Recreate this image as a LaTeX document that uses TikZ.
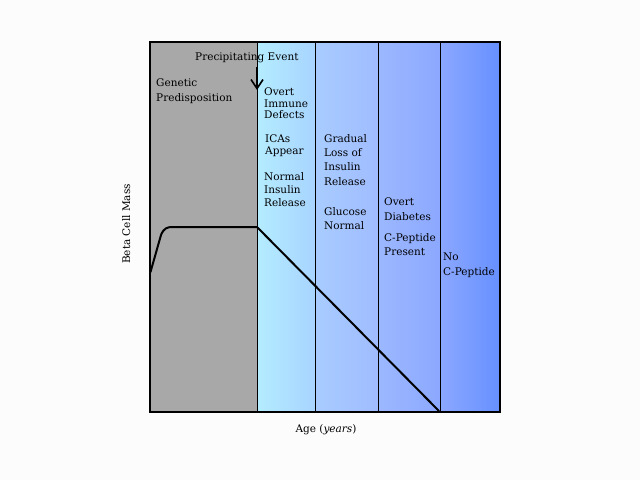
\documentclass[tikz,border=0pt]{standalone}
\usepackage{fontspec}
\setmainfont{DejaVu Serif}
\usetikzlibrary{arrows.meta}
\definecolor{bg}{HTML}{FCFCFC}
\definecolor{graybox}{HTML}{A8A8A8}
\definecolor{ca}{HTML}{B4ECFF}
\definecolor{cb}{HTML}{A8D4FF}
\definecolor{cc}{HTML}{A8CCFF}
\definecolor{cd}{HTML}{A0BCFF}
\definecolor{ce}{HTML}{9CB8FF}
\definecolor{cf}{HTML}{8CA8FF}
\definecolor{cg}{HTML}{8CA8FF}
\definecolor{ch}{HTML}{6690FF}
\tikzset{
  lbl/.style={anchor=north west, inner sep=0pt, align=left, font={\fontsize{10.5}{13}\selectfont}},
  lblw/.style={lbl, font={\fontsize{10.5}{14.3}\selectfont}},
  divider/.style={line width=1pt, draw=black},
  curve/.style={line width=2pt, line join=round, line cap=round},
}
\begin{document}
\begin{tikzpicture}[x=1pt,y=-1pt]
\useasboundingbox (0,0) rectangle (640,480);
\fill[bg] (0,0) rectangle (640,480);
% regions
\fill[graybox] (150,42) rectangle (257,412);
\shade[left color=ca, right color=cb] (257,42) rectangle (315,412);
\shade[left color=cc, right color=cd] (315,42) rectangle (378,412);
\shade[left color=ce, right color=cf] (378,42) rectangle (440,412);
\shade[left color=cg, right color=ch] (440,42) rectangle (500,412);
% dividers and frame
\draw[divider] (257,42) -- (257,412);
\draw[divider] (315,42) -- (315,412);
\draw[divider] (378,42) -- (378,412);
\draw[divider] (440,42) -- (440,412);
\draw[line width=1.2pt] (150,42) rectangle (500,412);
% beta cell mass curve
\draw[curve] (150.5,272) -- (161,235) .. controls (164,228) and (167,227) .. (173,227) -- (257,227) -- (439,411);
% precipitating event
\node[lbl] (pe) at (195,53) {Precipitating Event};
\coordinate (arrtop) at (257,67);
\coordinate (arrtip) at (257,90);
\draw[line width=1.6pt, -{Straight Barb[length=9pt,width=12pt]}] (arrtop) -- (arrtip);
% texts
\node[lblw] (gen) at (156,79) {Genetic\\Predisposition};
\node[lbl, font={\fontsize{10.5}{11.2}\selectfont}] (oid) at (264,88) {Overt\\Immune\\Defects};
\node[lbl, font={\fontsize{10.5}{12}\selectfont}] (ica) at (265,135) {ICAs\\Appear};
\node[lbl] (nir) at (264,172) {Normal\\Insulin\\Release};
\node[lblw] (glr) at (324,134) {Gradual\\Loss of\\Insulin\\Release};
\node[lblw] (gn) at (324,207) {Glucose\\Normal};
\node[lblw] (od) at (384,198) {Overt\\Diabetes};
\node[lblw] (cpp) at (384,233) {C-Peptide\\Present};
\node[lblw] (ncp) at (443,253) {No\\C-Peptide};
% axis labels
\node[inner sep=0pt, font={\fontsize{10.5}{13}\selectfont}, rotate=90, anchor=base] (ylab) at (130,224) {Beta Cell Mass};
\node[inner sep=0pt, font={\fontsize{10.5}{13}\selectfont}, anchor=base] (xlab) at (326,432) {Age (\textit{years})};
\end{tikzpicture}
\end{document}
